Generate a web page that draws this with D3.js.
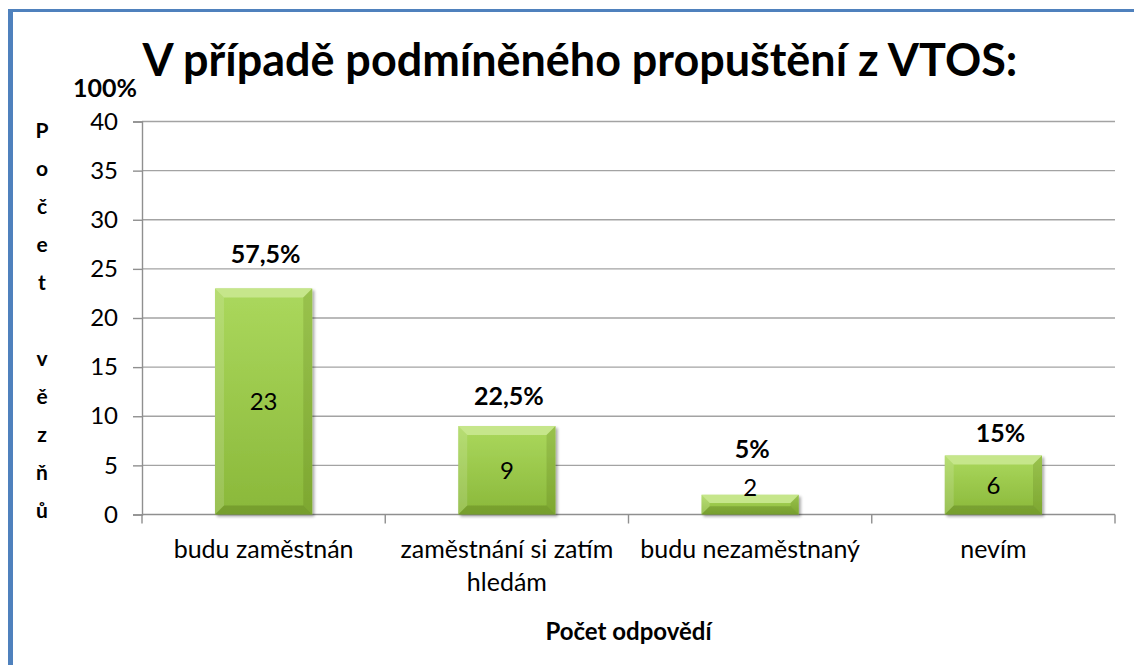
<!DOCTYPE html>
<html><head><meta charset="utf-8">
<script src="https://cdn.jsdelivr.net/npm/d3@7/dist/d3.min.js"></script>
<style>html,body{margin:0;padding:0;background:#fff;overflow:hidden}svg{display:block;overflow:hidden}</style>
</head><body>
<svg id="c" width="1134" height="665"></svg>
<script>
// ---- data ----
const categories = ["budu zaměstnán", "zaměstnání si zatím hledám", "budu nezaměstnaný", "nevím"];
const counts = [23, 9, 2, 6];
const percentLabels = ["57,5%", "22,5%", "5%", "15%"];
const yTicks = [0, 5, 10, 15, 20, 25, 30, 35, 40];
const titleText = "V případě podmíněného propuštění z VTOS:";
const yAxisTitle = "Počet vězňů";
const xAxisTitle = "Počet odpovědí";
const topLabel = "100%";

// ---- layout / style ----
const FONT = "Lato, 'Open Sans', sans-serif";
const W = 1134, H = 665;
const svg = d3.select("#c");
const plot = {left: 142, right: 1115, top: 121.5, bottom: 514.5};
const pctLift = [26, 21, 37, 14];
const pctDx = [2, 2, 2, 7];

svg.append("rect").attr("width", W).attr("height", H).attr("fill", "#fff");
// blue frame (left + top visible)
svg.append("rect").attr("x", 8).attr("y", 9).attr("width", W - 8).attr("height", 3).attr("fill", "#4f81bd");
svg.append("rect").attr("x", 8).attr("y", 9).attr("width", 5).attr("height", H - 9).attr("fill", "#4f81bd");

const defs = svg.append("defs");
const g1 = defs.append("linearGradient").attr("id", "barGrad").attr("x1", 0).attr("y1", 0).attr("x2", 0).attr("y2", 1);
g1.append("stop").attr("offset", "0%").attr("stop-color", "#abd85d");
g1.append("stop").attr("offset", "100%").attr("stop-color", "#8ab83a");
const f = defs.append("filter").attr("id", "shadow").attr("x", "-10%").attr("y", "-10%").attr("width", "130%").attr("height", "130%");
f.append("feGaussianBlur").attr("in", "SourceAlpha").attr("stdDeviation", 1.8).attr("result", "b");
f.append("feOffset").attr("in", "b").attr("dx", 2).attr("dy", 2).attr("result", "o");
f.append("feComponentTransfer").attr("in", "o").attr("result", "s")
  .append("feFuncA").attr("type", "linear").attr("slope", 0.35);
const fm = f.append("feMerge");
fm.append("feMergeNode").attr("in", "s");
fm.append("feMergeNode").attr("in", "SourceGraphic");

const x = d3.scaleBand().domain(categories).range([plot.left, plot.right]).paddingInner(0.6).paddingOuter(0.3);
const y = d3.scaleLinear().domain([0, 40]).range([plot.bottom, plot.top]);

// gridlines
svg.append("g").selectAll("line").data(yTicks.filter(t => t > 0)).join("line")
  .attr("x1", plot.left).attr("x2", plot.right)
  .attr("y1", d => y(d)).attr("y2", d => y(d))
  .attr("stroke", "#a3a3a3").attr("stroke-width", 1.4);

// y axis
const yAxis = svg.append("g").attr("transform", `translate(${plot.left},0)`)
  .call(d3.axisLeft(y).tickValues(yTicks).tickFormat(d3.format("d")).tickSize(9).tickPadding(15));
yAxis.select(".domain").attr("stroke", "#8f8f8f").attr("stroke-width", 1.4);
yAxis.selectAll(".tick line").attr("stroke", "#8f8f8f").attr("stroke-width", 1.4);
yAxis.selectAll(".tick text").attr("font-family", FONT).attr("font-size", 24).attr("fill", "#000");

// x axis line + boundary ticks
svg.append("line").attr("x1", plot.left).attr("x2", plot.right).attr("y1", y(0)).attr("y2", y(0))
  .attr("stroke", "#8f8f8f").attr("stroke-width", 1.4);
const step = x.step();
const bounds = categories.map(c => x(c) - (step - x.bandwidth()) / 2).concat([plot.right]);
svg.append("g").selectAll("line").data(bounds).join("line")
  .attr("x1", d => d).attr("x2", d => d).attr("y1", y(0)).attr("y2", y(0) + 9)
  .attr("stroke", "#8f8f8f").attr("stroke-width", 1.4);

// bars with bevel
const bars = svg.append("g").attr("filter", "url(#shadow)");
counts.forEach((v, i) => {
  const x0 = x(categories[i]), x1 = x0 + x.bandwidth();
  const y0 = y(v), y1 = y(0);
  const b = Math.min(9, (y1 - y0) / 2.4, x.bandwidth() / 4);
  const g = bars.append("g");
  g.append("rect").attr("x", x0).attr("y", y0).attr("width", x1 - x0).attr("height", y1 - y0).attr("fill", "url(#barGrad)");
  const poly = (pts, fill) => g.append("polygon").attr("points", pts.map(p => p.join(",")).join(" ")).attr("fill", fill);
  poly([[x0, y0], [x1, y0], [x1 - b, y0 + b], [x0 + b, y0 + b]], "#c6e68b");
  poly([[x0, y0], [x0 + b, y0 + b], [x0 + b, y1 - b], [x0, y1]], "rgba(255,255,255,0.14)");
  poly([[x1, y0], [x1 - b, y0 + b], [x1 - b, y1 - b], [x1, y1]], "rgba(60,80,0,0.16)");
  poly([[x0, y1], [x0 + b, y1 - b], [x1 - b, y1 - b], [x1, y1]], "rgba(50,70,0,0.22)");
});

// value labels inside bars
svg.append("g").selectAll("text").data(counts).join("text")
  .attr("x", (d, i) => x(categories[i]) + x.bandwidth() / 2)
  .attr("y", d => Math.min((y(d) + y(0)) / 2, y(0) - 27) + 8.5)
  .attr("text-anchor", "middle").attr("font-family", FONT).attr("font-size", 24).attr("fill", "#000")
  .text(d => d);

// percentage labels
svg.append("g").selectAll("text").data(percentLabels).join("text")
  .attr("x", (d, i) => x(categories[i]) + x.bandwidth() / 2 + pctDx[i])
  .attr("y", (d, i) => y(counts[i]) - pctLift[i])
  .attr("text-anchor", "middle").attr("font-family", FONT).attr("font-weight", "bold").attr("font-size", 25).attr("fill", "#000")
  .text(d => d);

// category labels with wrapping
const catG = svg.append("g");
categories.forEach(c => {
  const t = catG.append("text").attr("text-anchor", "middle").attr("font-family", FONT).attr("font-size", 25).attr("fill", "#000");
  const cx = x(c) + x.bandwidth() / 2;
  const words = c.split(" ");
  let lines = [], cur = [];
  const probe = svg.append("text").attr("font-family", FONT).attr("font-size", 25);
  words.forEach(w => {
    const test = cur.concat([w]).join(" ");
    probe.text(test);
    if (cur.length && probe.node().getComputedTextLength() > 238) { lines.push(cur.join(" ")); cur = [w]; }
    else cur.push(w);
  });
  lines.push(cur.join(" "));
  probe.remove();
  lines.forEach((l, k) => t.append("tspan").attr("x", cx).attr("y", 558 + k * 33).text(l));
});

// x axis title
svg.append("text").attr("x", (plot.left + plot.right) / 2).attr("y", 640).attr("text-anchor", "middle")
  .attr("font-family", FONT).attr("font-weight", "bold").attr("font-size", 24).attr("fill", "#000").text(xAxisTitle);

// y axis title: stacked letters
const yt = svg.append("text").attr("text-anchor", "middle").attr("font-family", FONT).attr("font-weight", "bold").attr("font-size", 21).attr("fill", "#000");
Array.from(yAxisTitle).forEach((ch, k) => {
  yt.append("tspan").attr("x", 42).attr("y", 138 + k * 38).text(ch === " " ? "\u00a0" : ch);
});

// "100%"
svg.append("text").attr("x", 105).attr("y", 97).attr("text-anchor", "middle")
  .attr("font-family", FONT).attr("font-weight", "bold").attr("font-size", 25).attr("fill", "#000").text(topLabel);

// title fitted to width
const title = svg.append("text").attr("x", 580).attr("y", 76).attr("text-anchor", "middle")
  .attr("font-family", FONT).attr("font-weight", "bold").attr("font-size", 42).attr("fill", "#000").text(titleText);
const w0 = title.node().getComputedTextLength();
title.attr("font-size", 42 * 875 / w0);
</script>
</body></html>
